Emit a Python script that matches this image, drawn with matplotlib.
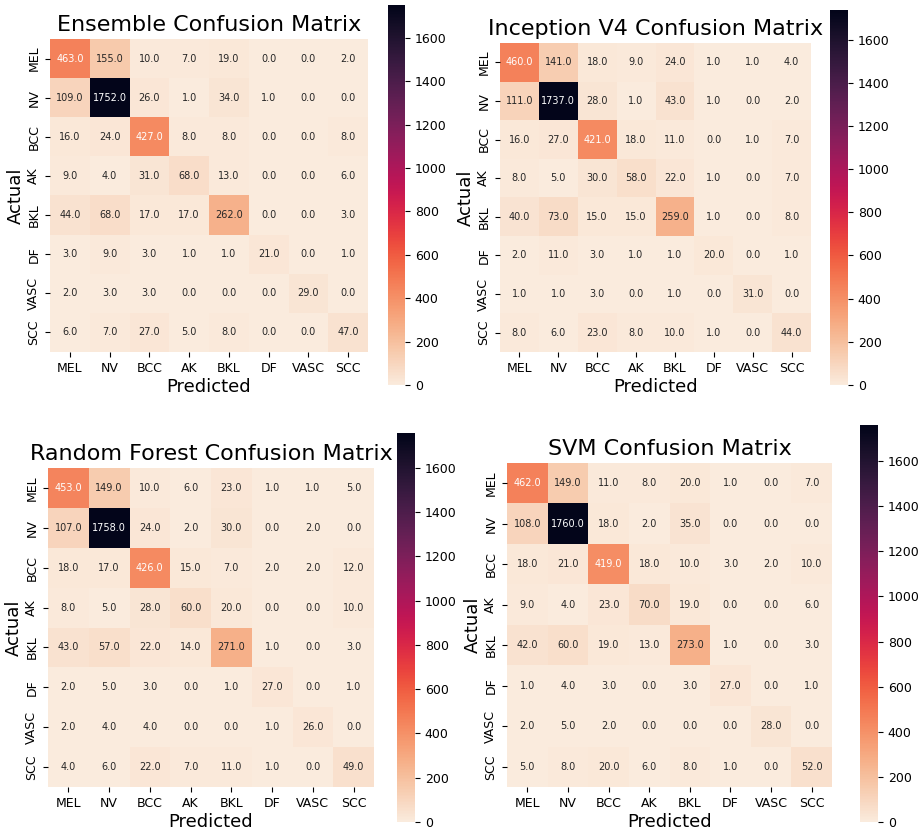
import matplotlib
matplotlib.use('Agg')
from matplotlib import pyplot as plt
import seaborn as sns
import numpy as np

labels = ['MEL', 'NV', 'BCC', 'AK', 'BKL', 'DF', 'VASC', 'SCC']

ensemble = [[463, 155, 10, 7, 19, 0, 0, 2],
            [109, 1752, 26, 1, 34, 1, 0, 0],
            [16, 24, 427, 8, 8, 0, 0, 8],
            [9, 4, 31, 68, 13, 0, 0, 6],
            [44, 68, 17, 17, 262, 0, 0, 3],
            [3, 9, 3, 1, 1, 21, 0, 1],
            [2, 3, 3, 0, 0, 0, 29, 0],
            [6, 7, 27, 5, 8, 0, 0, 47]]

inception = [[460, 141, 18, 9, 24, 1, 1, 4],
             [111, 1737, 28, 1, 43, 1, 0, 2],
             [16, 27, 421, 18, 11, 0, 1, 7],
             [8, 5, 30, 58, 22, 1, 0, 7],
             [40, 73, 15, 15, 259, 1, 0, 8],
             [2, 11, 3, 1, 1, 20, 0, 1],
             [1, 1, 3, 0, 1, 0, 31, 0],
             [8, 6, 23, 8, 10, 1, 0, 44]]

forest = [[453, 149, 10, 6, 23, 1, 1, 5],
          [107, 1758, 24, 2, 30, 0, 2, 0],
          [18, 17, 426, 15, 7, 2, 2, 12],
          [8, 5, 28, 60, 20, 0, 0, 10],
          [43, 57, 22, 14, 271, 1, 0, 3],
          [2, 5, 3, 0, 1, 27, 0, 1],
          [2, 4, 4, 0, 0, 1, 26, 0],
          [4, 6, 22, 7, 11, 1, 0, 49]]

svm = [[462, 149, 11, 8, 20, 1, 0, 7],
       [108, 1760, 18, 2, 35, 0, 0, 0],
       [18, 21, 419, 18, 10, 3, 2, 10],
       [9, 4, 23, 70, 19, 0, 0, 6],
       [42, 60, 19, 13, 273, 1, 0, 3],
       [1, 4, 3, 0, 3, 27, 0, 1],
       [2, 5, 2, 0, 0, 0, 28, 0],
       [5, 8, 20, 6, 8, 1, 0, 52]]

titles = ['Ensemble Confusion Matrix', 'Inception V4 Confusion Matrix',
          'Random Forest Confusion Matrix', 'SVM Confusion Matrix']

W, H = 918., 830.

def box(x0, y0, x1, y1):
    # pixel box (top-left origin) -> figure fraction
    return [x0 / W, 1 - y1 / H, (x1 - x0) / W, (y1 - y0) / H]

# heatmap box, colorbar box (pixels)
panels = [
    (ensemble, box(50, 39, 368, 352), box(388, 5, 405, 385)),
    (inception, box(500, 43, 811, 352), box(830, 10, 848, 385)),
    (forest, box(48, 468, 374, 787), box(397, 433, 415, 822)),
    (svm, box(507, 463, 832, 787), box(860, 425, 878, 822)),
]

fig = plt.figure(figsize=(9.18, 8.30), dpi=100)

for (cm, hbox, cbox), title in zip(panels, titles):
    ax = fig.add_axes(hbox)
    cax = fig.add_axes(cbox)
    sns.heatmap(np.array(cm, dtype=float), annot=True, fmt='.1f', cmap='rocket_r',
                xticklabels=labels, yticklabels=labels, ax=ax, cbar_ax=cax,
                annot_kws={'size': 7})
    ax.set_title(title, fontsize=16)
    ax.set_xlabel('Predicted', fontsize=13, labelpad=2)
    ax.set_ylabel('Actual', fontsize=13, labelpad=2)
    ax.tick_params(labelsize=9)
    cax.tick_params(labelsize=9)

plt.savefig('out.png', dpi=100)
